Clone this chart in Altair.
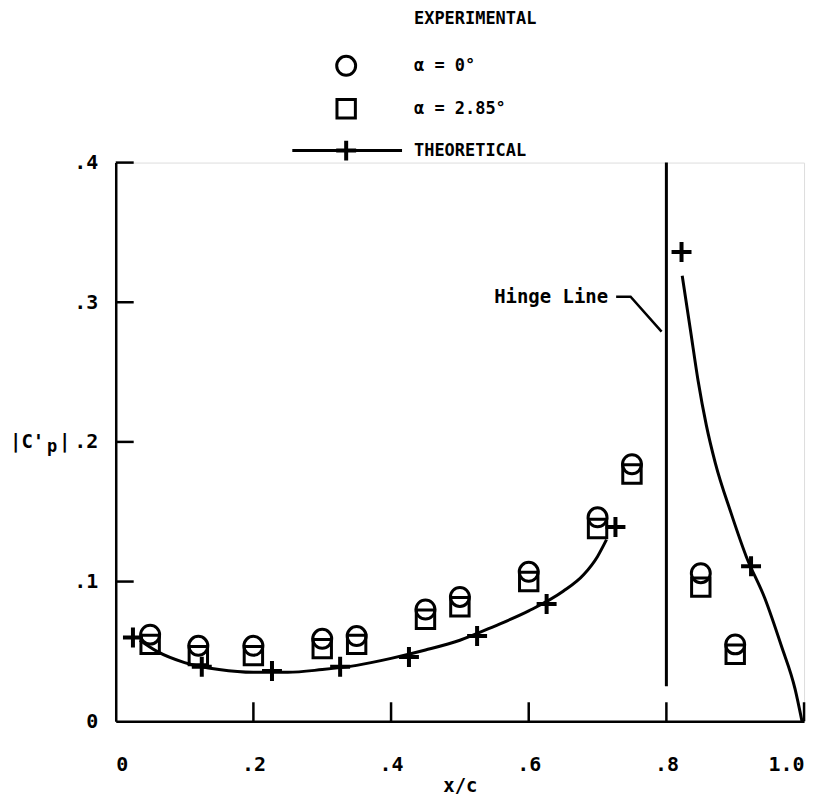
import altair as alt
import pandas as pd

# ---------------- data ----------------
exp_x = [0.05, 0.12, 0.20, 0.30, 0.35, 0.45, 0.50, 0.60, 0.70, 0.75, 0.85, 0.90]
exp_a0 = [0.062, 0.054, 0.054, 0.059, 0.061, 0.080, 0.089, 0.107, 0.146, 0.184, 0.106, 0.055]
exp_a285 = [0.055, 0.047, 0.047, 0.052, 0.055, 0.073, 0.082, 0.100, 0.138, 0.177, 0.096, 0.048]

theo_mark_x = [0.025, 0.125, 0.227, 0.326, 0.426, 0.525, 0.626, 0.726, 0.822, 0.923]
theo_mark_y = [0.060, 0.039, 0.036, 0.039, 0.046, 0.061, 0.084, 0.139, 0.336, 0.111]

curve_fwd_x = [0.035, 0.06, 0.10, 0.15, 0.20, 0.25, 0.30, 0.35, 0.40, 0.45, 0.50,
               0.55, 0.60, 0.65, 0.68, 0.70, 0.713]
curve_fwd_y = [0.058, 0.050, 0.042, 0.037, 0.035, 0.035, 0.037, 0.040, 0.045, 0.051,
               0.058, 0.068, 0.079, 0.093, 0.105, 0.118, 0.130]
curve_flap_x = [0.823, 0.835, 0.846, 0.858, 0.871, 0.894, 0.916, 0.943, 0.967, 0.987, 0.997]
curve_flap_y = [0.319, 0.280, 0.244, 0.212, 0.185, 0.149, 0.118, 0.088, 0.054, 0.023, 0.0]

x_ticks = [0.0, 0.2, 0.4, 0.6, 0.8, 1.0]
y_ticks = [0.0, 0.1, 0.2, 0.3, 0.4]
x_inner_ticks = [0.2, 0.4, 0.6, 0.8, 1.0]
y_inner_ticks = [0.1, 0.2, 0.3, 0.4]

hinge_x = 0.8
hinge_y = [0.025, 0.4]
leader_x = [0.727, 0.748, 0.793]
leader_y = [0.304, 0.304, 0.279]

FONT = "DejaVu Sans Mono"
W, H = 690, 560

xs = alt.Scale(domain=[0, 1.0], nice=False, zero=False)
ys = alt.Scale(domain=[0, 0.4], nice=False, zero=False)

label_expr = ("datum.value == 0 ? '0' : (datum.value >= 1 ? '1.0' : "
              "replace(format(datum.value, '.1f'), '0.', '.'))")

# ---------------- experimental ----------------
exp_df = pd.DataFrame({"x": exp_x, "a0": exp_a0, "a285": exp_a285})

base_axes = alt.Chart(exp_df).mark_point(opacity=0).encode(
    x=alt.X("x:Q", scale=xs,
            axis=alt.Axis(values=x_ticks, labelExpr=label_expr, title="x/c",
                          ticks=False, grid=False, domainColor="black",
                          domainWidth=2.5, labelPadding=33, titlePadding=2,
                          labelFont=FONT, labelFontSize=20, labelFontWeight="bold",
                          labelColor="black", titleFont=FONT, titleFontSize=19,
                          titleFontWeight="bold", titleColor="black")),
    y=alt.Y("a0:Q", scale=ys,
            axis=alt.Axis(values=y_ticks, labelExpr=label_expr, title=None,
                          ticks=False, grid=False, domainColor="black",
                          domainWidth=2.5, labelPadding=18,
                          labelFont=FONT, labelFontSize=20, labelFontWeight="bold",
                          labelColor="black")),
)

circles = alt.Chart(exp_df).mark_point(
    shape="circle", size=360, filled=False, color="black", strokeWidth=3, opacity=1
).encode(x=alt.X("x:Q", scale=xs), y=alt.Y("a0:Q", scale=ys))

squares = alt.Chart(exp_df).mark_point(
    shape="M-1,-1H1V1H-1Z", size=340, filled=False, color="black", strokeWidth=3,
    opacity=1
).encode(x=alt.X("x:Q", scale=xs), y=alt.Y("a285:Q", scale=ys))

# ---------------- theoretical ----------------
curve_df = pd.DataFrame({
    "x": curve_fwd_x + curve_flap_x,
    "y": curve_fwd_y + curve_flap_y,
    "seg": ["fwd"] * len(curve_fwd_x) + ["flap"] * len(curve_flap_x),
})
curves = alt.Chart(curve_df).mark_line(
    color="black", strokeWidth=3, interpolate="monotone"
).encode(x=alt.X("x:Q", scale=xs), y=alt.Y("y:Q", scale=ys), detail="seg:N",
         order="x:Q")

theo_df = pd.DataFrame({"x": theo_mark_x, "y": theo_mark_y})
plus = alt.Chart(theo_df).mark_point(
    shape="M-1,0H1M0,-1V1", size=400, filled=False, color="black", strokeWidth=4,
    opacity=1
).encode(x=alt.X("x:Q", scale=xs), y=alt.Y("y:Q", scale=ys))

# ---------------- inner ticks ----------------
xt_df = pd.DataFrame({"x": x_inner_ticks})
xt = alt.Chart(xt_df).mark_rule(color="black", strokeWidth=2.5).encode(
    x=alt.X("x:Q", scale=xs), y=alt.value(H), y2=alt.value(H - 19))
yt_df = pd.DataFrame({"y": y_inner_ticks})
yt = alt.Chart(yt_df).mark_rule(color="black", strokeWidth=2.5).encode(
    y=alt.Y("y:Q", scale=ys), x=alt.value(0), x2=alt.value(18))

# ---------------- hinge line ----------------
hinge_df = pd.DataFrame({"x": [hinge_x], "y1": [hinge_y[0]], "y2": [hinge_y[1]]})
hinge = alt.Chart(hinge_df).mark_rule(color="black", strokeWidth=3).encode(
    x=alt.X("x:Q", scale=xs), y=alt.Y("y1:Q", scale=ys), y2="y2:Q")

leader_df = pd.DataFrame({"x": leader_x, "y": leader_y, "o": [0, 1, 2]})
leader = alt.Chart(leader_df).mark_line(color="black", strokeWidth=2.5).encode(
    x=alt.X("x:Q", scale=xs), y=alt.Y("y:Q", scale=ys), order="o:Q")

hinge_txt = alt.Chart(pd.DataFrame({"x": [leader_x[0]], "y": [leader_y[0]],
                                    "t": ["Hinge Line"]})).mark_text(
    font=FONT, fontSize=19, fontWeight="bold", align="right", baseline="middle",
    dx=-8, color="black"
).encode(x=alt.X("x:Q", scale=xs), y=alt.Y("y:Q", scale=ys), text="t:N")

# ---------------- legend & y title (layout, pixel positions) ----------------
one = pd.DataFrame({"k": [0]})


def ptext(txt, px, py, size=17, align="left", dy=0):
    return alt.Chart(one).mark_text(
        font=FONT, fontSize=size, fontWeight="bold", align=align,
        baseline="middle", color="black", dy=dy
    ).encode(x=alt.value(px), y=alt.value(py), text=alt.value(txt))


leg_x_sym = 231
leg_x_txt = 299
leg_rows = [-144, -97, -54, -12]

legend = [
    ptext("EXPERIMENTAL", leg_x_txt, leg_rows[0], size=17),
    alt.Chart(one).mark_point(shape="circle", size=360, filled=False, opacity=1,
                              color="black", strokeWidth=3).encode(
        x=alt.value(leg_x_sym), y=alt.value(leg_rows[1])),
    ptext("\u03b1 = 0\u00b0", leg_x_txt, leg_rows[1], size=17),
    alt.Chart(one).mark_point(shape="M-1,-1H1V1H-1Z", size=340, filled=False,
                              opacity=1, color="black", strokeWidth=3).encode(
        x=alt.value(leg_x_sym), y=alt.value(leg_rows[2])),
    ptext("\u03b1 = 2.85\u00b0", leg_x_txt, leg_rows[2], size=17),
    alt.Chart(one).mark_rule(color="black", strokeWidth=3).encode(
        x=alt.value(177), x2=alt.value(287), y=alt.value(leg_rows[3])),
    alt.Chart(one).mark_point(shape="M-1,0H1M0,-1V1", size=400, filled=False,
                              opacity=1, color="black", strokeWidth=4).encode(
        x=alt.value(leg_x_sym), y=alt.value(leg_rows[3])),
    ptext("THEORETICAL", leg_x_txt, leg_rows[3], size=17),
    # y-axis title |C'p|
    ptext("|C'", -106, 280, size=19),
    ptext("p", -69, 280, size=17, dy=5),
    ptext("|", -57, 280, size=19),
]

chart = alt.layer(
    base_axes, curves, circles, squares, plus, xt, yt, hinge, leader, hinge_txt,
    *legend
).properties(
    width=W, height=H,
    autosize=alt.AutoSizeParams(type="none"),
    padding={"left": 108, "top": 154, "right": 20, "bottom": 75},
).configure_view(stroke=None).configure(background="white")

chart.save("out.html", embed_options={"renderer": "svg", "actions": False})
